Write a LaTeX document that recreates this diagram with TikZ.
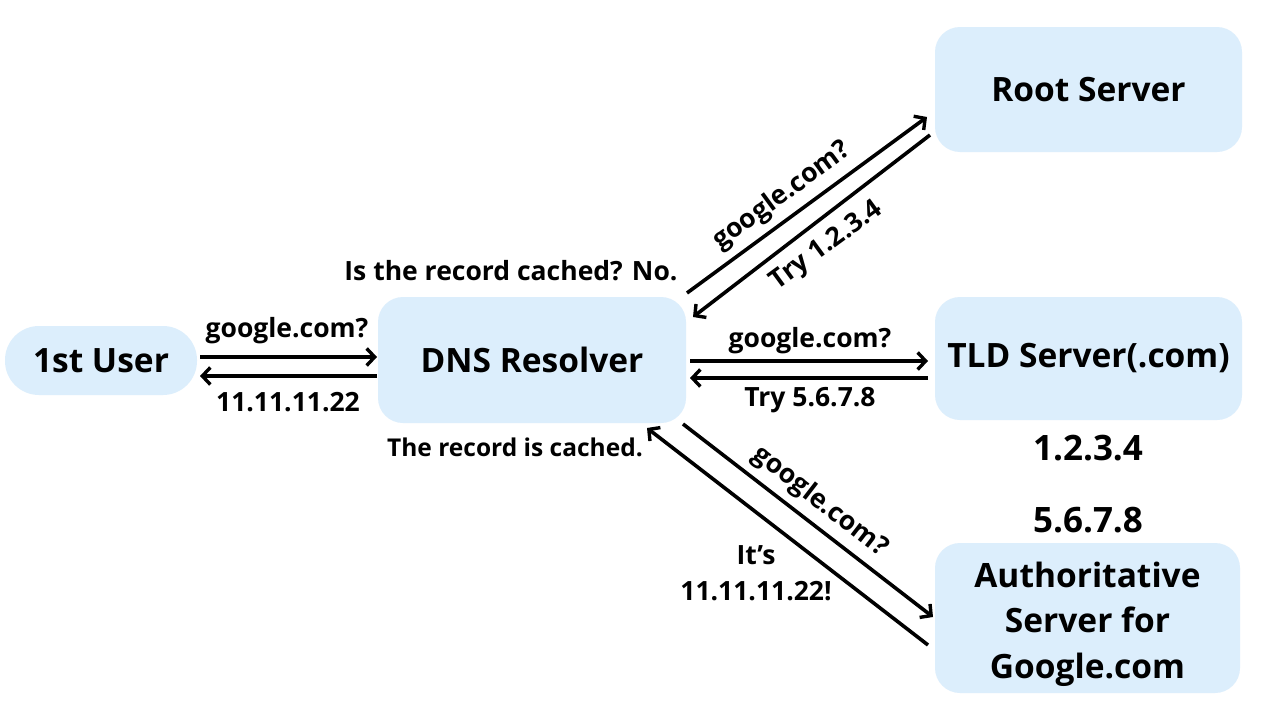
\documentclass[tikz,border=0pt]{standalone}
\usepackage{fontspec}
\setmainfont{Open Sans}
\usetikzlibrary{arrows.meta}
\definecolor{boxblue}{HTML}{DCEEFC}
\begin{document}
\begin{tikzpicture}[x=1pt,y=-1pt,
  srv/.style={fill=boxblue,draw=none,rounded corners=25pt,font=\fontsize{33.5}{45.5}\selectfont\bfseries,align=center,inner sep=0pt},
  lbl/.style={font=\fontsize{26.5}{36}\selectfont\bfseries,inner sep=0pt,align=center},
  big/.style={font=\fontsize{35}{40}\selectfont\bfseries,inner sep=0pt},
  arr/.style={line width=3.6pt,-{Straight Barb[length=8pt,width=17pt,line width=3.4pt]}}]
\path[fill=white] (0,0) rectangle (1280,720);
\useasboundingbox (0,0) rectangle (1280,720);
% boxes
\node[srv,rounded corners=34pt,minimum width=192pt,minimum height=69pt] (user) at (101,360.5) {1st User};
\node[srv,minimum width=308pt,minimum height=126pt] (dns) at (532,360) {DNS Resolver};
\node[srv,minimum width=307pt,minimum height=125pt] (root) at (1088.5,89.5) {Root Server};
\node[srv,minimum width=307pt,minimum height=123pt] (tld) at (1088.5,358.5) {TLD Server(.com)};
\node[srv,minimum width=305pt,minimum height=150pt] (auth) at (1087.5,618) {};
\node[srv,fill=none] (authtxt) at (1087.5,624) {Authoritative\\Server for\\Google.com};
% endpoints
\coordinate (u1) at (200,357); \coordinate (d1) at (377,357);
\coordinate (d2) at (377,376); \coordinate (u2) at (200,376);
\coordinate (r1s) at (687,293); \coordinate (r1e) at (927,117);
\coordinate (r2s) at (930,135); \coordinate (r2e) at (693,317);
\coordinate (t1s) at (690,361); \coordinate (t1e) at (928,361);
\coordinate (t2s) at (928,378); \coordinate (t2e) at (690,378);
\coordinate (a1s) at (683,424); \coordinate (a1e) at (933,617);
\coordinate (a2s) at (928,645); \coordinate (a2e) at (647,428);
% arrows
\draw[arr] (u1) -- (d1);
\draw[arr] (d2) -- (u2);
\draw[arr] (r1s) -- (r1e);
\draw[arr] (r2s) -- (r2e);
\draw[arr] (t1s) -- (t1e);
\draw[arr] (t2s) -- (t2e);
\draw[arr] (a1s) -- (a1e);
\draw[arr] (a2s) -- (a2e);
% labels
\node[lbl] (l1) at (287,331) {google.com?};
\node[lbl] (l2) at (288,402) {11.11.11.22};
\node[lbl,rotate=36.3] (l3) at (782,196) {google.com?};
\node[lbl,rotate=36.3] (l4) at (827,246) {Try 1.2.3.4};
\node[lbl] (l5) at (810,341) {google.com?};
\node[lbl] (l6) at (810,400) {Try 5.6.7.8};
\node[lbl,rotate=-37.7] (l7) at (820,502) {google.com?};
\node[lbl] (l8) at (756,573) {It’s\\11.11.11.22!};
\node[lbl] (l9) at (511,271) {Is the record cached? No.};
\node[lbl,font=\fontsize{24.5}{30}\selectfont\bfseries] (l10) at (515,447) {The record is cached.};
\node[big] (n1) at (1088,448) {1.2.3.4};
\node[big] (n2) at (1088,520) {5.6.7.8};
\end{tikzpicture}
\end{document}
